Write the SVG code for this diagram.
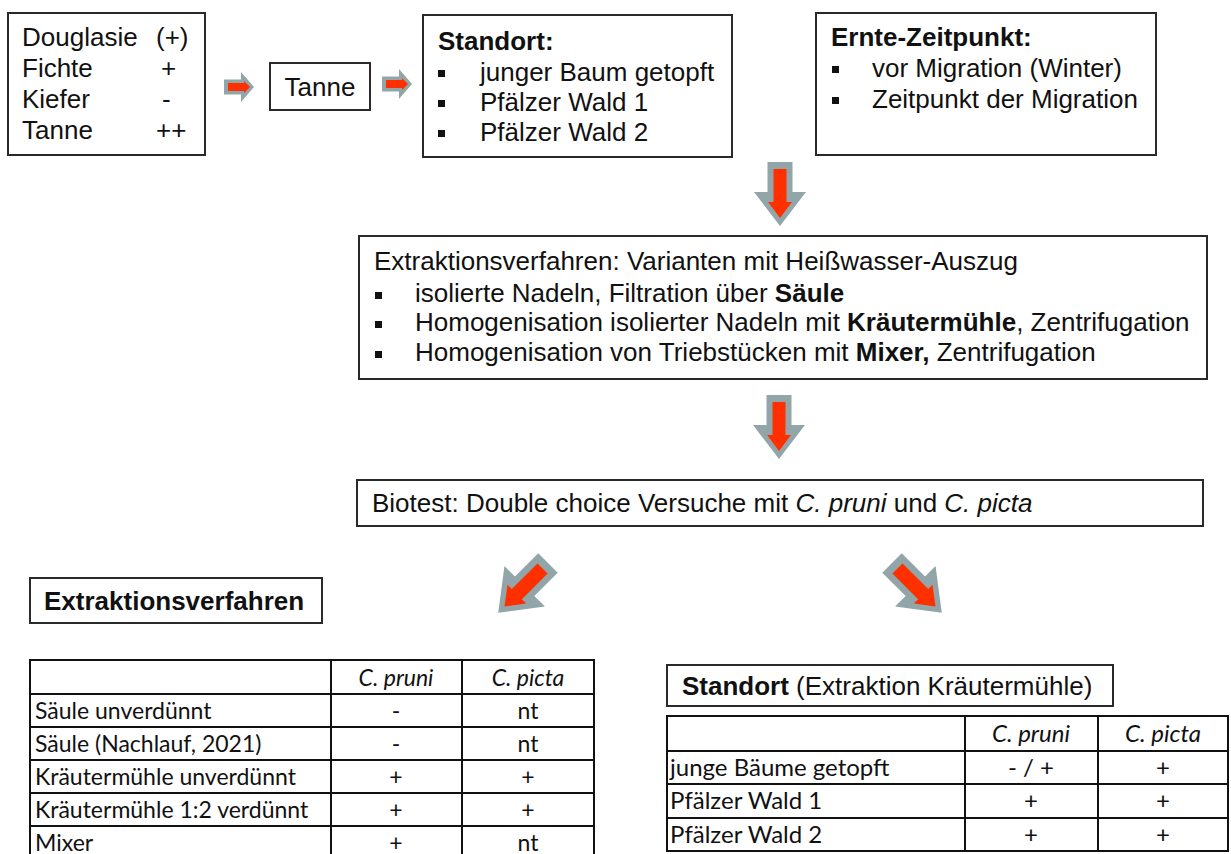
<svg xmlns="http://www.w3.org/2000/svg" width="1231" height="854" viewBox="0 0 1231 854">
<defs>
<style>
.box{fill:#fff;stroke:#2a2a2a;stroke-width:2}
.t{font-family:"Liberation Sans",Arial,sans-serif;font-size:26px;fill:#111}
.b{font-weight:bold}
.tb{font-family:Lato,"Liberation Sans",sans-serif;font-size:23px;fill:#111}
.tb2{font-family:Lato,"Liberation Sans",sans-serif;font-size:24px;fill:#111}
.i{font-style:italic}
.c{text-anchor:middle}
.grid{stroke:#111;stroke-width:2;fill:none}
.ag{fill:#92a6aa}
.ar{fill:#ff3000}
</style>
<g id="bigArrow">
<path class="ag" d="M-12.5,0 L12.5,0 L12.5,30 L26,30 L0,64 L-26,30 L-12.5,30 Z"/>
<path class="ar" d="M-6.5,7 L6.5,7 L6.5,40 L12,40 L0,56 L-12,40 L-6.5,40 Z"/>
</g>
<g id="smallArrow">
<path class="ag" d="M0,-7.5 L17,-7.5 L17,-15 L30,0 L17,15 L17,7.5 L0,7.5 Z"/>
<path class="ar" d="M4,-4 L20,-4 L20,-6 L26,0 L20,6 L20,4 L4,4 Z"/>
</g>
</defs>
<rect width="1231" height="854" fill="#fff"/>

<g id="connectors">
<use href="#smallArrow" transform="translate(224,87)"/>
<use href="#smallArrow" transform="translate(382,84)"/>
<use href="#bigArrow" transform="translate(780,162)"/>
<use href="#bigArrow" transform="translate(779,395)"/>
<use href="#bigArrow" transform="translate(548,563) rotate(45) scale(1.1)"/>
<use href="#bigArrow" transform="translate(892,563) rotate(-45) scale(1.1)"/>
</g>

<g id="node-baumarten">
<rect class="box" x="8" y="13" width="197" height="142"/>
<text class="t" x="22" y="46">Douglasie</text><text class="t" x="156" y="46">(+)</text>
<text class="t" x="22" y="77">Fichte</text><text class="t" x="161" y="77">+</text>
<text class="t" x="22" y="108">Kiefer</text><text class="t" x="162" y="108">-</text>
<text class="t" x="22" y="139">Tanne</text><text class="t" x="156" y="139">++</text>
</g>

<g id="node-tanne">
<rect class="box" x="270" y="63" width="100" height="47"/>
<text class="t c" x="320" y="96">Tanne</text>
</g>

<g id="node-standort">
<rect class="box" x="423" y="15" width="309" height="142"/>
<text class="t b" x="438" y="50">Standort:</text>
<rect x="438" y="70" width="7" height="7" fill="#111"/><text class="t" x="480" y="81">junger Baum getopft</text>
<rect x="438" y="100" width="7" height="7" fill="#111"/><text class="t" x="480" y="111">Pfälzer Wald 1</text>
<rect x="438" y="130" width="7" height="7" fill="#111"/><text class="t" x="480" y="141">Pfälzer Wald 2</text>
</g>

<g id="node-ernte">
<rect class="box" x="816" y="13" width="340" height="142"/>
<text class="t b" x="831" y="46">Ernte-Zeitpunkt:</text>
<rect x="832" y="66" width="7" height="7" fill="#111"/><text class="t" x="872" y="77">vor Migration (Winter)</text>
<rect x="832" y="97" width="7" height="7" fill="#111"/><text class="t" x="872" y="108">Zeitpunkt der Migration</text>
</g>

<g id="node-extraktion">
<rect class="box" x="359" y="236" width="848" height="143"/>
<text class="t" x="374" y="270">Extraktionsverfahren:  Varianten mit Heißwasser-Auszug</text>
<rect x="375" y="292" width="7" height="7" fill="#111"/><text class="t" x="415" y="302">isolierte Nadeln, Filtration über <tspan class="b">Säule</tspan></text>
<rect x="375" y="321" width="7" height="7" fill="#111"/><text class="t" x="415" y="331">Homogenisation isolierter Nadeln mit <tspan class="b">Kräutermühle</tspan>, Zentrifugation</text>
<rect x="375" y="351" width="7" height="7" fill="#111"/><text class="t" x="415" y="361">Homogenisation von Triebstücken mit <tspan class="b">Mixer,</tspan> Zentrifugation</text>
</g>

<g id="node-biotest">
<rect class="box" x="357" y="480" width="846" height="46"/>
<text class="t" x="372" y="512">Biotest: Double choice Versuche mit <tspan class="i">C. pruni</tspan> und <tspan class="i">C. picta</tspan></text>
</g>

<g id="node-titel-extraktion">
<rect class="box" x="30" y="578" width="292" height="45"/>
<text class="t b" x="44" y="610">Extraktionsverfahren</text>
</g>

<g id="node-tabelle-extraktion">
<rect x="30" y="660" width="564" height="210" fill="#fff"/>
<path class="grid" d="M30,870 V660 H594 V870 M331,660 V870 M462,660 V870 M30,694 H594 M30,727 H594 M30,760 H594 M30,793 H594 M30,826 H594"/>
<text class="tb i c" x="396" y="686">C. pruni</text><text class="tb i c" x="528" y="686">C. picta</text>
<text class="tb" x="35" y="719">Säule unverdünnt</text><text class="tb c" x="396" y="719">-</text><text class="tb c" x="528" y="719">nt</text>
<text class="tb" x="35" y="752">Säule (Nachlauf, 2021)</text><text class="tb c" x="396" y="752">-</text><text class="tb c" x="528" y="752">nt</text>
<text class="tb" x="35" y="785">Kräutermühle unverdünnt</text><text class="tb c" x="396" y="785">+</text><text class="tb c" x="528" y="785">+</text>
<text class="tb" x="35" y="818">Kräutermühle 1:2 verdünnt</text><text class="tb c" x="396" y="818">+</text><text class="tb c" x="528" y="818">+</text>
<text class="tb" x="35" y="851">Mixer</text><text class="tb c" x="396" y="851">+</text><text class="tb c" x="528" y="851">nt</text>
</g>

<g id="node-titel-standort">
<rect class="box" x="667" y="665" width="446" height="41"/>
<text class="t" x="682" y="695"><tspan class="b">Standort</tspan> (Extraktion Kräutermühle)</text>
</g>

<g id="node-tabelle-standort">
<path class="grid" d="M667,716 H1228 V851 H667 Z M965,716 V851 M1098,716 V851 M667,751 H1228 M667,784 H1228 M667,818 H1228"/>
<text class="tb2 i c" x="1031" y="742">C. pruni</text><text class="tb2 i c" x="1163" y="742">C. picta</text>
<text class="tb2" x="670" y="776">junge Bäume getopft</text><text class="tb2 c" x="1031" y="776">- / +</text><text class="tb2 c" x="1163" y="776">+</text>
<text class="tb2" x="670" y="809">Pfälzer Wald 1</text><text class="tb2 c" x="1031" y="809">+</text><text class="tb2 c" x="1163" y="809">+</text>
<text class="tb2" x="670" y="843">Pfälzer Wald 2</text><text class="tb2 c" x="1031" y="843">+</text><text class="tb2 c" x="1163" y="843">+</text>
</g>
</svg>
